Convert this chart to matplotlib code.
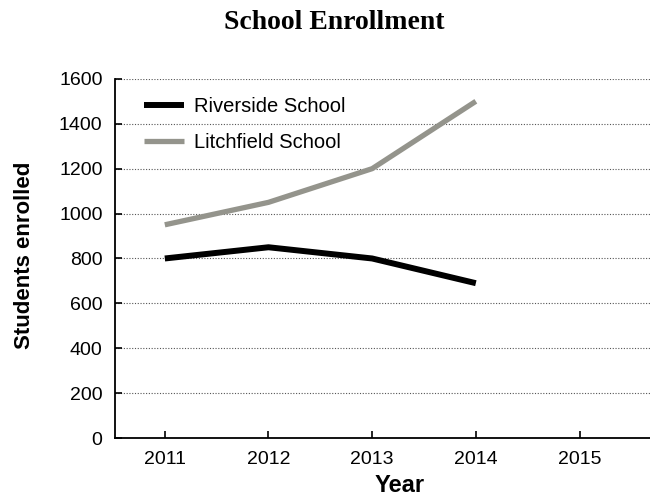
import matplotlib.pyplot as plt

years = [2011, 2012, 2013, 2014]
riverside = [800, 850, 800, 690]
litchfield = [950, 1050, 1200, 1500]
x_ticks = [2011, 2012, 2013, 2014, 2015]
y_ticks = [0, 200, 400, 600, 800, 1000, 1200, 1400, 1600]

plt.rcParams['font.family'] = ['Liberation Sans', 'DejaVu Sans']

fig = plt.figure(figsize=(6.5, 4.99), dpi=100)
ax = fig.add_axes([0.177, 0.122, 0.823, 0.720])

ax.plot(years, riverside, color="black", linewidth=4.3, solid_capstyle="butt",
        label="Riverside School", zorder=3)
ax.plot(years, litchfield, color="#94948c", linewidth=3.8, solid_capstyle="butt",
        label="Litchfield School", zorder=3)

ax.set_xlim(2010.52, 2015.68)
ax.set_ylim(0, 1600)
ax.set_xticks(x_ticks)
ax.set_yticks(y_ticks)
ax.tick_params(direction="in", length=5, width=1.2, labelsize=14, pad=9)
ax.yaxis.grid(True, linestyle=(0, (1, 1.5)), color="#555555", linewidth=0.8)
ax.set_axisbelow(True)

for s in ["top", "right"]:
    ax.spines[s].set_visible(False)
for s in ["left", "bottom"]:
    ax.spines[s].set_linewidth(1.3)

# axis titles placed by hand, as in the reference
fig.text(0.615, 0.028, "Year", ha="center", va="center",
         fontsize=17, fontweight="bold")
fig.text(0.037, 0.489, "Students enrolled", ha="center", va="center",
         rotation=90, fontsize=16, fontweight="bold")

leg = ax.legend(loc="upper left", frameon=False, fontsize=14.5, handlelength=2.0,
                handletextpad=0.5, bbox_to_anchor=(0.02, 1.0), labelspacing=0.85)

fig.text(0.515, 0.955, "School Enrollment", ha="center", va="center",
         fontsize=20, fontweight="bold", family=["Liberation Serif", "DejaVu Serif"])

fig.savefig("out.png", dpi=100)
